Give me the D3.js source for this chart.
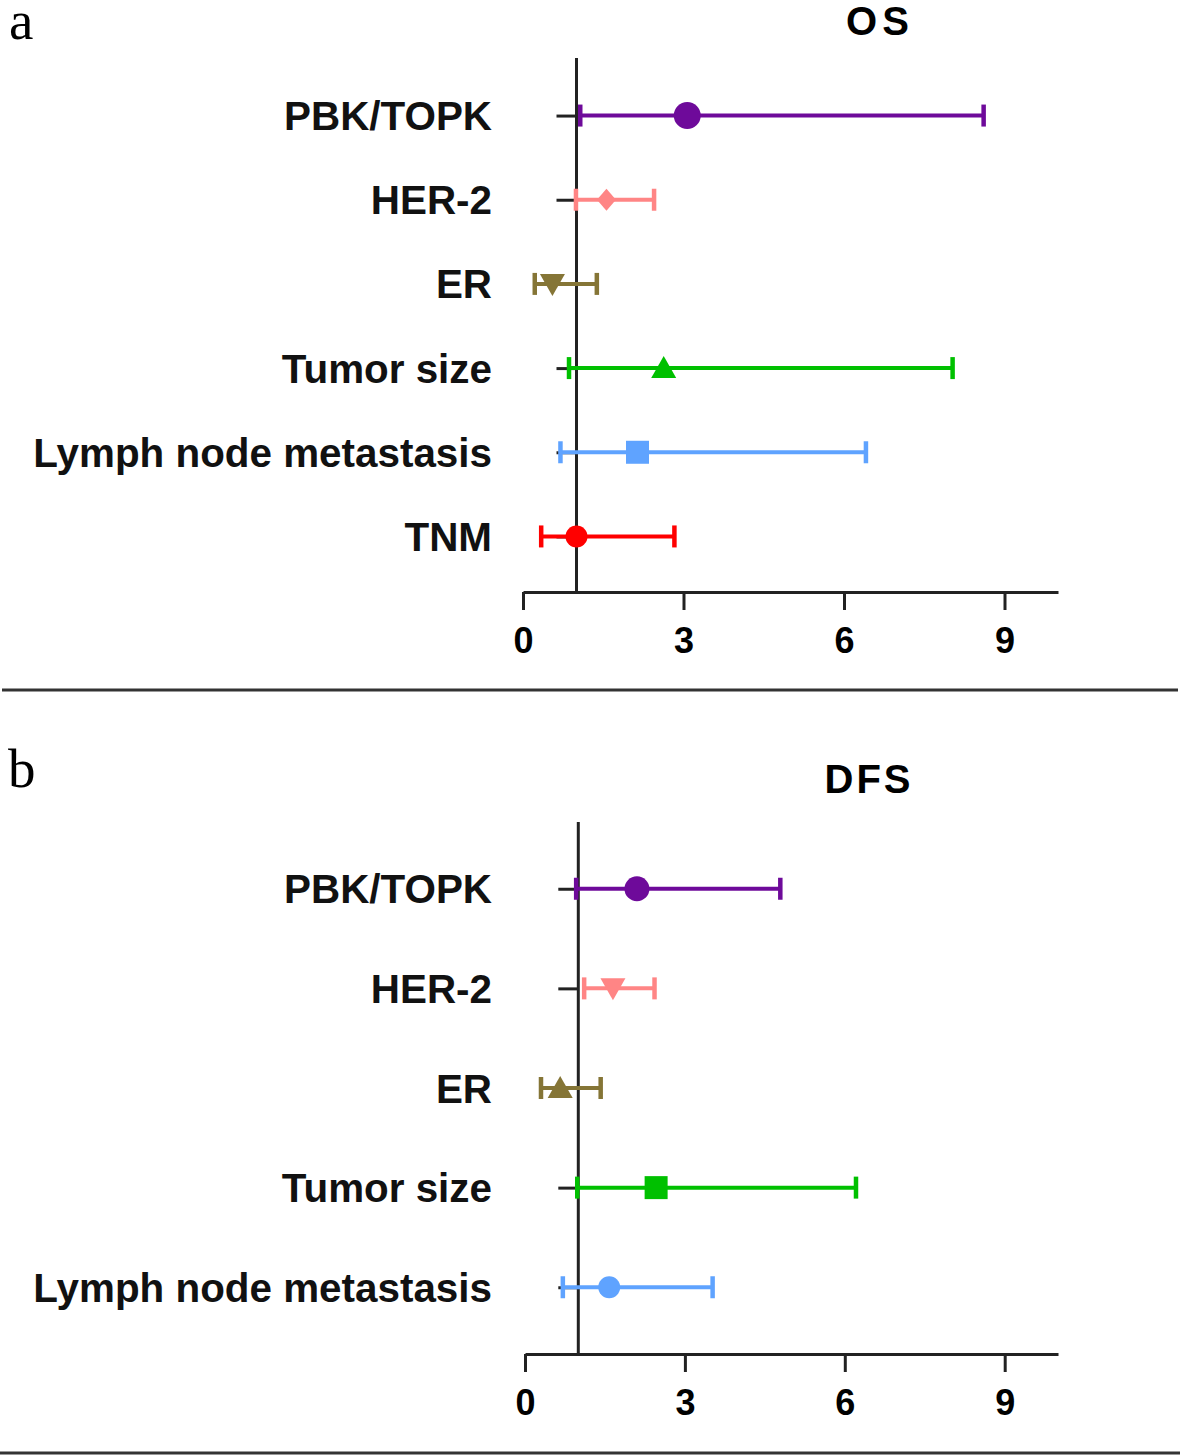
<!DOCTYPE html>
<html>
<head>
<meta charset="utf-8">
<script src="https://cdn.jsdelivr.net/npm/d3@7"></script>
<style>
  html, body { margin: 0; padding: 0; background: #fff; }
  svg { display: block; }
</style>
</head>
<body>
<svg id="chart" width="1180" height="1456"></svg>
<script>
// ---------------- DATA ----------------
const osCategories = ["PBK/TOPK", "HER-2", "ER", "Tumor size", "Lymph node metastasis", "TNM"];
const osHR   = [3.07, 1.56, 0.55, 2.63, 2.14, 1.00];
const osLow  = [1.07, 0.99, 0.22, 0.86, 0.70, 0.34];
const osHigh = [8.61, 2.45, 1.38, 8.03, 6.41, 2.83];

const dfsCategories = ["PBK/TOPK", "HER-2", "ER", "Tumor size", "Lymph node metastasis"];
const dfsHR   = [2.10, 1.65, 0.66, 2.46, 1.58];
const dfsLow  = [0.96, 1.11, 0.30, 0.98, 0.71];
const dfsHigh = [4.79, 2.43, 1.42, 6.21, 3.52];

const xTickValues = [0, 3, 6, 9];
const xDomain = [0, 10];
const refValue = 1;

// ---------------- STYLES ----------------
const osColors = ["#6E0A9A", "#FF8585", "#857536", "#00C000", "#5FA3FF", "#FF0000"];
const osShapes = ["bigCircle", "diamond", "triDown", "triUp", "square", "circle"];
const dfsColors = ["#6E0A9A", "#FF8585", "#857536", "#00C000", "#5FA3FF"];
const dfsShapes = ["bigCircle2", "triDown", "triUp", "square", "circle"];

const svg = d3.select("#chart");
svg.append("rect").attr("width", 1180).attr("height", 1456).attr("fill", "#fff");

const axisColor = "#222";
const labelFont = "'Liberation Sans', Arial, Helvetica, sans-serif";

function shapePath(kind) {
  switch (kind) {
    case "bigCircle": return d3.symbol(d3.symbolCircle, Math.PI * 13.5 * 13.5)();
    case "bigCircle2": return d3.symbol(d3.symbolCircle, Math.PI * 12.5 * 12.5)();
    case "circle": return d3.symbol(d3.symbolCircle, Math.PI * 11 * 11)();
    case "square": return d3.symbol(d3.symbolSquare, 23 * 23)();
    case "triUp": return "M0,-12L12.5,10L-12.5,10Z";
    case "triDown": return "M0,12L12.5,-10L-12.5,-10Z";
    case "diamond": return "M0,-11L9.5,0L0,11L-9.5,0Z";
  }
}

function panel(cfg) {
  const g = svg.append("g");
  const x = d3.scaleLinear().domain(xDomain).range(cfg.xRange);
  const y = d3.scalePoint().domain(cfg.categories).range(cfg.yRange).padding(cfg.yPad);

  // x axis
  const xAxis = d3.axisBottom(x).tickValues(xTickValues).tickSize(18).tickSizeOuter(0).tickPadding(17);
  const xg = g.append("g").attr("transform", `translate(0,${cfg.axisY})`).call(xAxis);
  xg.attr("color", axisColor);
  xg.select(".domain").attr("stroke-width", 3);
  xg.selectAll(".tick line").attr("stroke-width", 3);
  xg.selectAll(".tick text")
    .attr("font-family", labelFont).attr("font-weight", "bold")
    .attr("font-size", 36).attr("fill", "#000");

  // y axis ticks at reference value (no labels)
  const yAxis = d3.axisLeft(y).tickSize(20).tickSizeOuter(0).tickFormat("");
  const yg = g.append("g").attr("transform", `translate(${x(refValue)},0)`).call(yAxis);
  yg.attr("color", axisColor);
  yg.select(".domain").remove();
  yg.selectAll(".tick line").attr("stroke-width", 3);

  // vertical reference line
  g.append("line")
    .attr("x1", x(refValue)).attr("x2", x(refValue))
    .attr("y1", cfg.lineTop).attr("y2", cfg.axisY + 1.5)
    .attr("stroke", axisColor).attr("stroke-width", 3);

  // category labels
  g.selectAll("text.cat").data(cfg.categories).enter().append("text")
    .attr("class", "cat")
    .attr("x", 492).attr("y", d => y(d)).attr("dy", "0.36em")
    .attr("text-anchor", "end")
    .attr("font-family", labelFont).attr("font-weight", "bold").attr("font-size", 40.4)
    .attr("fill", "#111")
    .text(d => d);

  const rows = cfg.categories.map((c, i) => ({
    c, hr: cfg.hr[i], lo: cfg.low[i], hi: cfg.high[i], color: cfg.colors[i], shape: cfg.shapes[i]
  }));

  const bar = g.selectAll("g.bar").data(rows).enter().append("g").attr("class", "bar");
  bar.append("line")
    .attr("x1", d => x(d.lo)).attr("x2", d => x(d.hi))
    .attr("y1", d => y(d.c)).attr("y2", d => y(d.c))
    .attr("stroke", d => d.color).attr("stroke-width", 4);
  bar.append("line")
    .attr("x1", d => x(d.lo)).attr("x2", d => x(d.lo))
    .attr("y1", d => y(d.c) - 11).attr("y2", d => y(d.c) + 11)
    .attr("stroke", d => d.color).attr("stroke-width", 4.5);
  bar.append("line")
    .attr("x1", d => x(d.hi)).attr("x2", d => x(d.hi))
    .attr("y1", d => y(d.c) - 11).attr("y2", d => y(d.c) + 11)
    .attr("stroke", d => d.color).attr("stroke-width", 4.5);
  bar.append("path")
    .attr("d", d => shapePath(d.shape))
    .attr("transform", d => `translate(${x(d.hr)},${y(d.c)})`)
    .attr("fill", d => d.color);

  // title
  svg.append("text")
    .attr("x", cfg.titleX).attr("y", cfg.titleY)
    .attr("text-anchor", "middle")
    .attr("font-family", labelFont).attr("font-weight", "bold").attr("font-size", 40)
    .attr("letter-spacing", cfg.titleSpacing)
    .attr("fill", "#000")
    .text(cfg.title);

  // panel letter
  svg.append("text")
    .attr("x", cfg.letterX).attr("y", cfg.letterY)
    .attr("font-family", "'Liberation Serif', 'Times New Roman', serif")
    .attr("font-size", 55).attr("fill", "#000")
    .text(cfg.letter);
}

panel({
  categories: osCategories, hr: osHR, low: osLow, high: osHigh,
  colors: osColors, shapes: osShapes,
  xRange: [523, 1058], yRange: [60, 592], yPad: 0.66,
  axisY: 592, lineTop: 58,
  title: "OS", titleX: 880, titleY: 35, titleSpacing: 5,
  letter: "a", letterX: 9, letterY: 39
});

panel({
  categories: dfsCategories, hr: dfsHR, low: dfsLow, high: dfsHigh,
  colors: dfsColors, shapes: dfsShapes,
  xRange: [525, 1058], yRange: [822, 1354], yPad: 0.67,
  axisY: 1354, lineTop: 822,
  title: "DFS", titleX: 869, titleY: 793, titleSpacing: 3,
  letter: "b", letterX: 8, letterY: 787
});

// separators
svg.append("line").attr("x1", 2).attr("x2", 1178).attr("y1", 690).attr("y2", 690)
  .attr("stroke", "#333").attr("stroke-width", 3);
svg.append("line").attr("x1", 0).attr("x2", 1180).attr("y1", 1453).attr("y2", 1453)
  .attr("stroke", "#333").attr("stroke-width", 3);
</script>
</body>
</html>
